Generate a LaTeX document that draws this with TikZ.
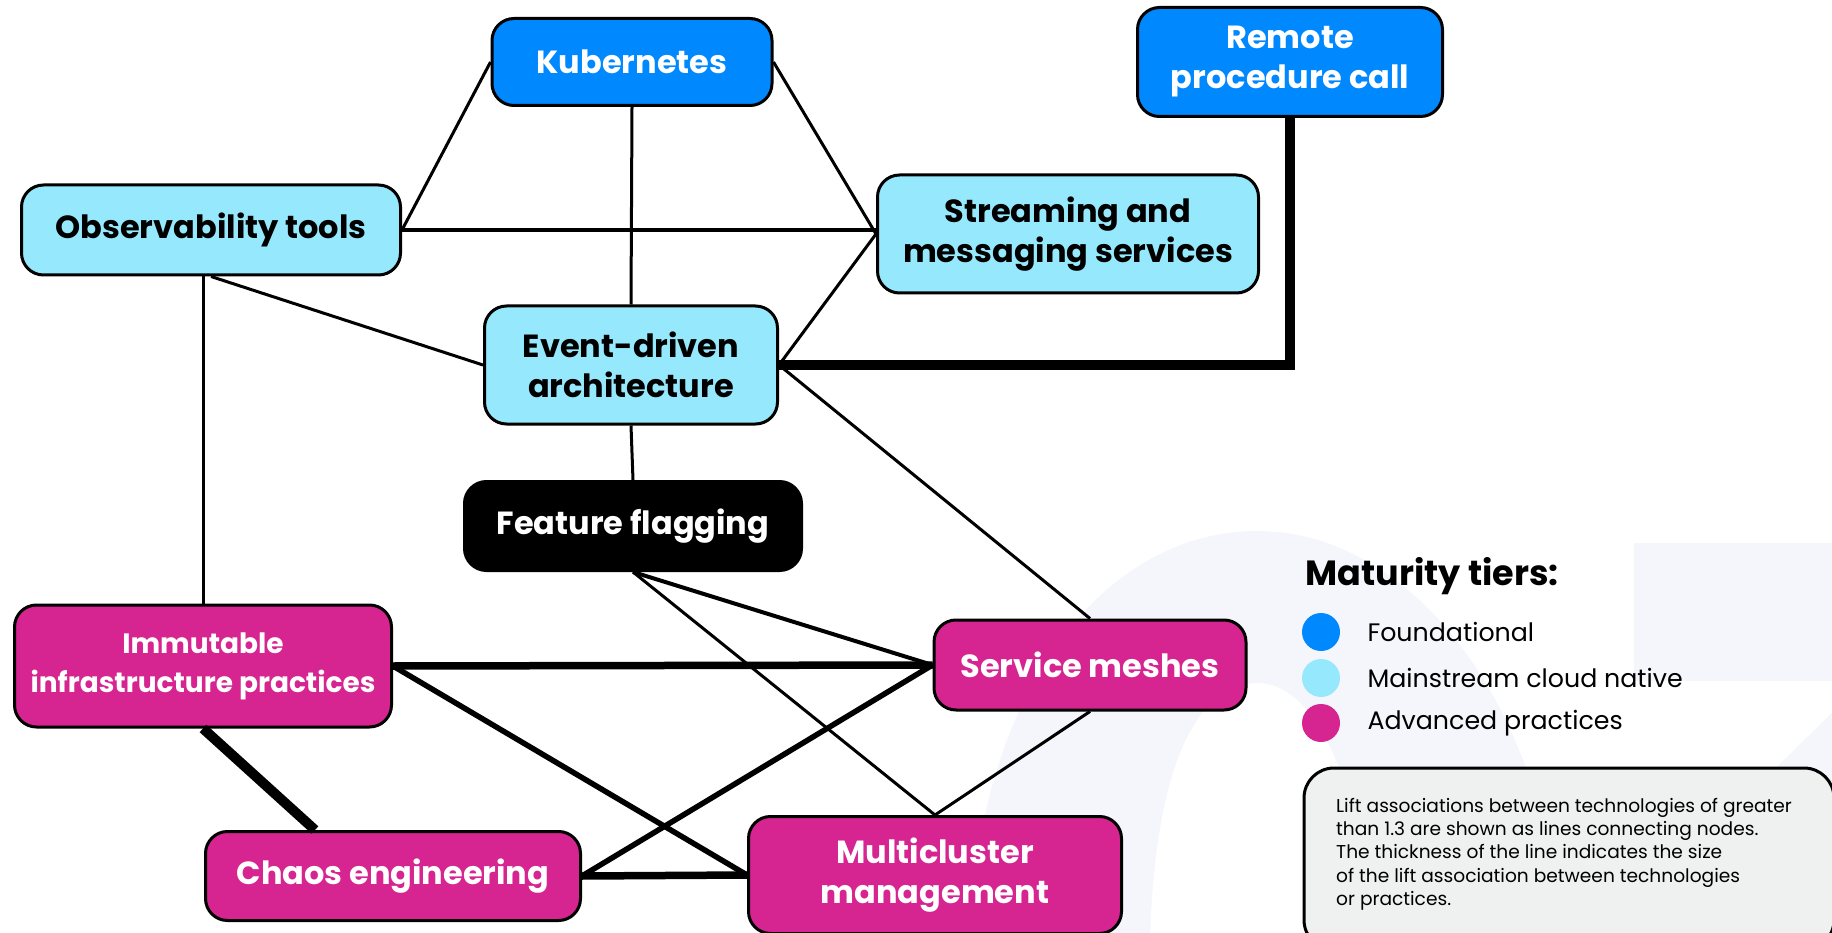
\documentclass[tikz,border=0pt]{standalone}
\usepackage{fontspec}
\setmainfont{Poppins}
\usepackage{tikz}
\definecolor{fblue}{HTML}{0088FF}
\definecolor{mblue}{HTML}{96E9FD}
\definecolor{apink}{HTML}{D62491}
\definecolor{notegray}{HTML}{EFF0F0}
\definecolor{logotint}{HTML}{F5F6FB}
\tikzset{tech/.style={draw=black, line width=3pt, rounded corners=22pt, align=center, inner sep=0pt, font=\bfseries\fontsize{32}{40}\selectfont}}
\tikzset{found/.style={tech, fill=fblue, text=white}, mainstream/.style={tech, fill=mblue, text=black}, adv/.style={tech, fill=apink, text=white}}
\tikzset{lift thin/.style={line width=3pt}, lift mid/.style={line width=4pt}, lift bold/.style={line width=5.5pt}, lift strong/.style={line width=7.5pt}, lift heavy/.style={line width=10pt}}

\begin{document}
\begin{tikzpicture}[x=1pt, y=-1pt]
        \useasboundingbox (0,0) rectangle (1832,933);
        % faint logo behind the legend
        \fill[logotint] (971,940) .. controls (975,700) and (1100,531) .. (1257,531) .. controls (1420,531) and (1550,720) .. (1560,940) -- cycle;
        \fill[white] (1150,940) .. controls (1155,760) and (1200,683) .. (1257,683) .. controls (1320,683) and (1365,800) .. (1370,940) -- cycle;
        \fill[logotint] (1634,543) rectangle (1840,681);
        \fill[logotint] (1840,705) -- (1600,940) -- (1840,940) -- cycle;
        % technologies
        \node[found, minimum width=280pt, minimum height=87pt] (kub) at (632,62) {Kubernetes};
        \node[found, minimum width=305pt, minimum height=109pt] (rpc) at (1290,62) {Remote\\procedure call};
        \node[mainstream, minimum width=379pt, minimum height=90pt] (obs) at (211,230) {Observability tools};
        \node[mainstream, minimum width=381pt, minimum height=118pt] (strm) at (1068,234) {Streaming and\\messaging services};
        \node[mainstream, minimum width=293pt, minimum height=118pt] (eda) at (631,365) {Event-driven\\architecture};
        \node[tech, fill=black, text=white, minimum width=337pt, minimum height=89pt] (ff) at (633,526) {Feature flagging};
        \node[adv, minimum width=377pt, minimum height=122pt, font=\bfseries\fontsize{28}{39}\selectfont] (imm) at (203,666) {Immutable\\infrastructure practices};
        \node[adv, minimum width=312pt, minimum height=90pt] (sm) at (1090,665) {Service meshes};
        \node[adv, minimum width=375pt, minimum height=89pt] (chaos) at (393,876) {Chaos engineering};
        \node[adv, minimum width=373pt, minimum height=117pt] (mcm) at (935,875) {Multicluster\\management};
        % lift associations
        \draw[lift thin] (kub.west) -- (obs.east);
        \draw[lift thin] (kub.east) -- (strm.west);
        \draw[lift thin] (kub.south) -- (eda.north);
        \draw[lift mid] (obs.east) -- (obs.east -| strm.west);
        \draw[lift thin] (eda.east) -- (strm.west);
        \draw[lift thin] (imm.north) -- (imm.north |- obs.south);
        \draw[lift thin] (obs.south) -- (eda.west);
        \draw[lift thin] (eda.south) -- (ff.north);
        \draw[lift thin] (eda.east) -- (sm.north);
        \draw[lift mid] (ff.south) -- (sm.west);
        \draw[lift thin] (ff.south) -- (mcm.north);
        \draw[lift thin] (sm.south) -- (mcm.north);
        \draw[lift heavy] (rpc.south) |- (eda.east);
        \draw[lift strong] (imm.east) -- (sm.west);
        \draw[lift bold] (imm.east) -- (mcm.west);
        \draw[lift heavy] (imm.south) -- ([xshift=-78pt]chaos.north);
        \draw[lift strong] (chaos.east) -- (mcm.west);
        \draw[lift bold] (chaos.east) -- (sm.west);
        % legend
        \node[anchor=base west, font=\bfseries\fontsize{35}{40}\selectfont] (tiers) at (1302,585) {Maturity tiers:};
        \foreach \tier/\col/\y in {Foundational/fblue/632, Mainstream cloud native/mblue/678, Advanced practices/apink/723} {
            \fill[\col] (1321,\y) circle (19);
            \node[anchor=west, font=\fontsize{25.3}{30}\selectfont] at (1364,\y) {\tier};
        }
        \draw[line width=3pt, fill=notegray, rounded corners=30pt] (1304,768) rectangle (1834,950);
        \node[anchor=north west, align=left, inner sep=0pt, font=\fontsize{18.6}{23.2}\selectfont] (note) at (1336,798) {Lift associations between technologies of greater\\than 1.3 are shown as lines connecting nodes.\\The thickness of the line indicates the size\\of the lift association between technologies\\or practices.};
    \end{tikzpicture}
\end{document}
